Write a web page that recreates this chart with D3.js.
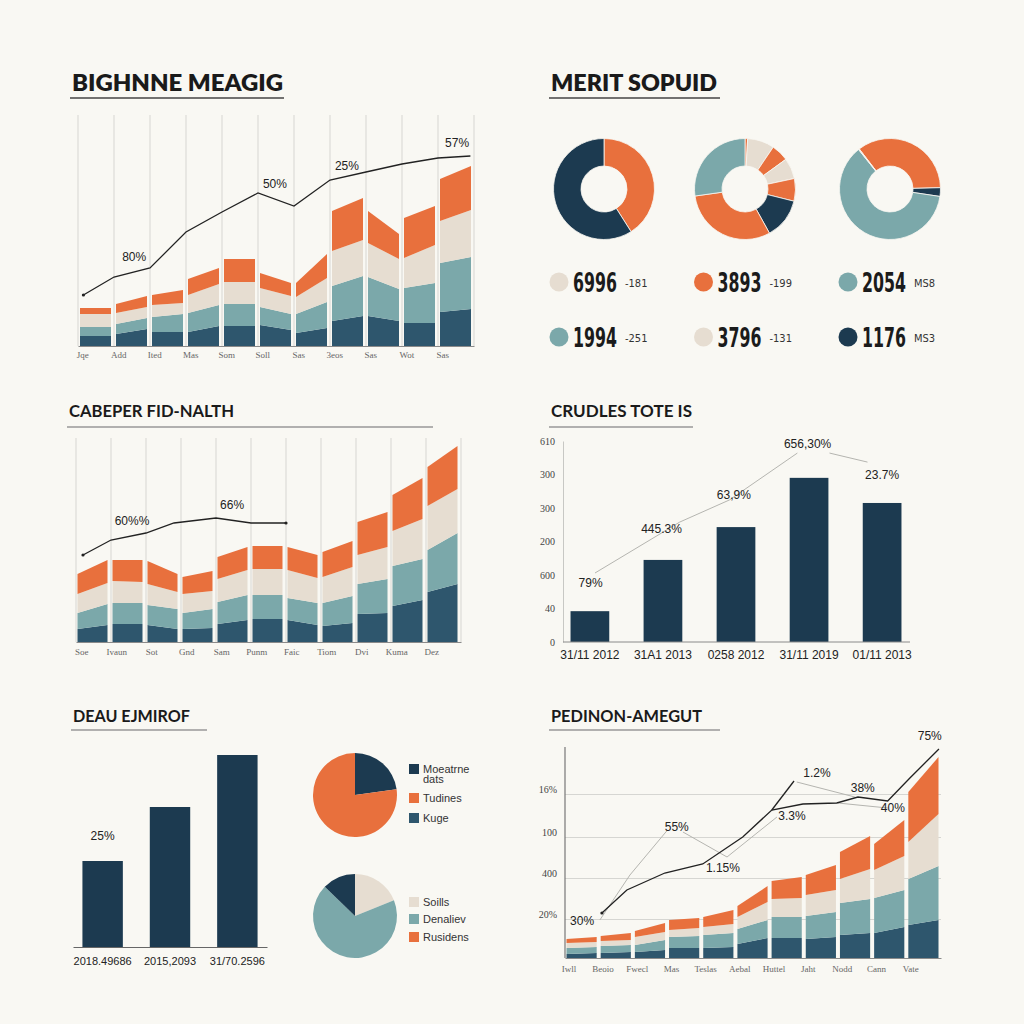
<!DOCTYPE html>
<html><head><meta charset="utf-8">
<script src="https://cdn.jsdelivr.net/npm/d3@7"></script>
<style>html,body{margin:0;padding:0;background:#f9f8f3;} svg{display:block;}</style>
</head><body>
<svg id="chart" width="1024" height="1024"></svg>
<script>
// ---------------- DATA ----------------
// Panel 1 (stacked steps, [left,right] per segment)
const p1Navy   = [[10,10],[12,17],[14,14],[14,20],[20,20],[21,16],[13,18],[25,30],[30,25],[23,23],[34,37]];
const p1Teal   = [[9,9],[10,11],[15,18],[19,21],[22,22],[18,16],[19,26],[35,40],[39,32],[35,40],[49,52]];
const p1Beige  = [[13,13],[11,11],[12,11],[18,21],[22,22],[19,18],[17,24],[35,36],[34,30],[30,38],[42,47]];
const p1Orange = [[6,6],[9,11],[10,13],[16,16],[23,23],[15,13],[14,24],[40,42],[32,25],[40,39],[42,44]];
const p1Cats   = ["Jqe","Add","Ited","Mas","Som","Soll","Sas","3eos","Sas","Wot","Sas"];
const p1LineX  = [0.15,1,2,3,4,5,6,7,8,9,10,10.9];
const p1LineY  = [51,69,78,114,134,153,140,166,174,182,188,190];
const p1Labels = [{t:"80%",x:1.56,v:89},{t:"50%",x:5.47,v:162},{t:"25%",x:7.47,v:180},{t:"57%",x:10.53,v:203}];

// Panel 2 (donuts + legend)
const donut1 = [41,59];
const donut1Colors = ["orange","navy"];
const donut2 = [3,31,20,24,26,47,111,98];
const donut2Colors = ["orange","beige","orange","beige","orange","navy","orange","teal"];
const donut3 = [126,10,223,1];
const donut3Colors = ["orange","navy","teal","beige"];
const donut3Start = -37.5;
const statValues = ["6996","3893","2054","1994","3796","1176"];
const statNotes  = ["-181","-199","MS8","-251","-131","MS3"];
const statColors = ["beige","orange","teal","teal","beige","navy"];

// Panel 3 (stacked steps)
const p3Navy   = [[13,17],[18,18],[17,13],[13,14],[18,22],[23,23],[22,17],[16,19],[28,29],[36,42],[50,58]];
const p3Teal   = [[16,21],[21,21],[20,20],[16,19],[22,25],[24,24],[22,22],[23,27],[30,34],[40,41],[42,51]];
const p3Beige  = [[19,21],[22,21],[21,17],[19,18],[23,25],[26,26],[28,25],[26,29],[29,32],[35,40],[44,44]];
const p3Orange = [[20,23],[21,22],[23,18],[17,20],[22,23],[23,23],[23,23],[25,26],[33,35],[36,41],[39,43]];
const p3Cats   = ["Soe","Ivaun","Sot","Gnd","Sam","Punm","Faic","Tiom","Dvi","Kuma","Dez"];
const p3LineX  = [0.2,1,2,2.8,4,5,6];
const p3LineY  = [87,102,109,119,124,119,119];
const p3Labels = [{t:"60%%",x:1.6,v:121},{t:"66%",x:4.46,v:137}];

// Panel 4 (bars)
const p4Cats   = ["31/11 2012","31A1 2013","0258 2012","31/11 2019","01/11 2013"];
const p4Values = [92,245,343,490,415];
const p4Ticks  = [0,100,200,300,400,500,600];
const p4TickLabels = ["0","40","600","200","300","300","610"];
const p4LeadA  = [[0.07,206],[1.23,358],[1.91,424],[2.84,564]];
const p4LeadB  = [[3.28,564],[3.8,537]];
const p4Labels = [{t:"79%",x:0.01,v:176},{t:"445.3%",x:0.98,v:337},{t:"63,9%",x:1.97,v:439},{t:"656,30%",x:2.98,v:591},{t:"23.7%",x:4.0,v:498}];

// Panel 5 (bars + pies)
const p5Cats   = ["2018.49686","2015,2093","31/70.2596"];
const p5Values = [86,140,192];
const p5Label  = {t:"25%",i:0,v:111};
const pieA = [82,278];
const pieAColors = ["navy","orange"];
const pieALegend = [["Moeatrne","dats"],["Tudines"],["Kuge"]];
const pieALegendColors = ["navy","orange","base"];
const pieB = [68,246,46];
const pieBColors = ["beige","teal","navy"];
const pieBLegend = ["Soills","Denaliev","Rusidens"];
const pieBLegendColors = ["beige","teal","orange"];

// Panel 6 (stacked steps)
const p6Navy   = [[4,5],[5,6],[6,8],[10,10],[10,11],[14,20],[20,20],[19,21],[23,25],[25,31],[33,38]];
const p6Teal   = [[6,6],[7,7],[7,10],[11,12],[13,14],[15,18],[21,21],[23,25],[32,34],[35,37],[46,54]];
const p6Beige  = [[5,5],[5,5],[8,8],[7,8],[8,9],[12,18],[18,19],[21,22],[24,30],[28,34],[37,52]];
const p6Orange = [[4,5],[5,7],[6,9],[10,10],[10,14],[11,16],[18,21],[20,25],[27,33],[26,36],[50,57]];
const p6Cats   = ["Iwll","Beoio","Fwecl","Mas","Teslas","Aebal","Huttel","Jaht","Nodd","Cann","Vate"];
const p6Grid   = [39,80,121,164];
const p6GridLabels = ["20%","400","100","16%"];
const p6LineX  = [1.08,1.81,2.92,4.03,5.2,6.05,6.96,7.95,8.57,9.44,10.09,10.94];
const p6LineY  = [45,68,85,94,121,148,154,155,161,157,180,209];
const p6Spike  = [[6.05,148],[6.7,177]];
const p6Leads  = [
  [[1.02,38],[1.9,83],[3.0,128]],
  [[3.45,126],[4.74,101],[6.2,141]],
  [[6.78,176],[8.48,161]],
  [[7.98,155],[9.44,150]]
];
const p6Labels = [{t:"30%",x:0.5,v:37},{t:"55%",x:3.27,v:131},{t:"1.15%",x:4.62,v:90},{t:"3.3%",x:6.64,v:142},
  {t:"1.2%",x:7.37,v:185},{t:"38%",x:8.71,v:170},{t:"40%",x:9.59,v:150},{t:"75%",x:10.67,v:222}];

// ---------------- STYLE ----------------
const C = {navy:"#1c3a50", base:"#2e566d", teal:"#7ba8aa", beige:"#e6ddd1", orange:"#e8703d", bg:"#f9f8f3"};
const stackKeys = ["base","teal","beige","orange"];

const svg = d3.select("#chart");
svg.append("rect").attr("width",1024).attr("height",1024).attr("fill",C.bg);

function title(txt, x, y, size, weight, len, lineY, lineX2, lineColor) {
  svg.append("text").attr("x",x).attr("y",y).text(txt)
    .attr("font-family","Lato, 'Open Sans', sans-serif").attr("font-weight",weight)
    .attr("font-size",size).attr("fill","#1a1a1a")
    .attr("textLength",len).attr("lengthAdjust","spacingAndGlyphs");
  svg.append("line").attr("x1",x-2).attr("x2",lineX2).attr("y1",lineY).attr("y2",lineY)
    .attr("stroke",lineColor).attr("stroke-width",1.3);
}

function stackedPanel(cfg) {
  const g = svg.append("g");
  const x = d3.scaleLinear().domain([0,11]).range(cfg.xr);
  const y = d3.scaleLinear().domain([0,cfg.ymax]).range(cfg.yr);
  if (cfg.vgrid) {
    g.selectAll(".vg").data(d3.range(12)).join("line")
      .attr("x1",d=>x(d)).attr("x2",d=>x(d)).attr("y1",cfg.yr[0]).attr("y2",cfg.yr[1])
      .attr("stroke","#dcdcd8").attr("stroke-width",1.2);
  }
  if (cfg.hgrid) {
    const ax = d3.axisLeft(y).tickValues(cfg.hgrid).tickFormat((d,i)=>cfg.hgridLabels[i])
      .tickSize(-(cfg.xr[1]-cfg.xr[0])).tickPadding(8);
    const a = g.append("g").attr("transform",`translate(${cfg.xr[0]},0)`).call(ax);
    a.selectAll(".tick line").attr("stroke","#d6d6d2").attr("stroke-width",1.2);
    a.selectAll(".tick text").attr("dy","-0.2em").attr("font-family","'Liberation Serif', serif")
      .attr("font-size",10).attr("fill","#444");
    a.select(".domain").remove();
    g.append("line").attr("x1",cfg.xr[0]).attr("x2",cfg.xr[0]).attr("y1",cfg.yr[0]).attr("y2",cfg.yr[1])
      .attr("stroke","#777").attr("stroke-width",1.2);
  }
  const layers = cfg.layers;
  const n = layers[0].length;
  const rows = [];
  for (let s=0;s<n;s++) for (let k=0;k<2;k++) {
    const r = {}; stackKeys.forEach((key,j)=> r[key]=layers[j][s][k]); rows.push(r);
  }
  const series = d3.stack().keys(stackKeys)(rows);
  const area = d3.area().x(d=>d.x).y0(d=>y(d.lo)).y1(d=>y(d.hi));
  series.forEach(ser=>{
    for (let s=0;s<n;s++) {
      const pts = [
        {x:x(s)+cfg.gapL, lo:ser[2*s][0], hi:ser[2*s][1]},
        {x:x(s+1)-cfg.gapR, lo:ser[2*s+1][0], hi:ser[2*s+1][1]}
      ];
      g.append("path").attr("d",area(pts)).attr("fill",C[ser.key]);
    }
  });
  const xa = d3.axisBottom(x).tickValues(d3.range(n).map(i=>i+cfg.labOff))
    .tickFormat((d,i)=>cfg.cats[i]).tickSize(0).tickPadding(cfg.labPad);
  const a = g.append("g").attr("transform",`translate(0,${cfg.yr[0]})`).call(xa);
  a.select(".domain").attr("stroke","#8a8a8a").attr("stroke-width",1.2);
  a.selectAll(".tick text").attr("font-family","'Liberation Serif', serif").attr("font-size",9).attr("fill","#666");
  return {g,x,y};
}

function lineWithLabels(p, xs, ys, labels) {
  const line = d3.line().x(d=>p.x(d[0])).y(d=>p.y(d[1]));
  const pts = xs.map((v,i)=>[v,ys[i]]);
  p.g.append("path").attr("d",line(pts)).attr("fill","none").attr("stroke","#222").attr("stroke-width",1.3);
  p.g.append("circle").attr("cx",p.x(pts[0][0])).attr("cy",p.y(pts[0][1])).attr("r",1.6).attr("fill","#222");
  labels.forEach(l=>{
    p.g.append("text").attr("x",p.x(l.x)).attr("y",p.y(l.v)+4).attr("text-anchor","middle")
      .attr("font-family","'Liberation Sans', Arial, sans-serif").attr("font-size",12).attr("fill","#222").text(l.t);
  });
  return line;
}

// ---------------- PANEL 1 ----------------
title("BIGHNNE MEAGIG", 72, 91, 23, 800, 211, 98, 284, "#444");
const P1 = stackedPanel({xr:[78,474], yr:[346,115], ymax:231, layers:[p1Navy,p1Teal,p1Beige,p1Orange],
  vgrid:true, gapL:2, gapR:3, cats:p1Cats, labOff:0.12, labPad:6});
lineWithLabels(P1, p1LineX, p1LineY, p1Labels);

// ---------------- PANEL 2 ----------------
title("MERIT SOPUID", 551, 91, 23, 800, 166, 98, 720, "#444");
function donut(cx, cy, vals, cols, startDeg) {
  const pie = d3.pie().sort(null).startAngle((startDeg||0)*Math.PI/180).endAngle(((startDeg||0)+360)*Math.PI/180);
  const arc = d3.arc().innerRadius(23).outerRadius(50.5);
  svg.append("g").attr("transform",`translate(${cx},${cy})`)
    .selectAll("path").data(pie(vals)).join("path").attr("d",arc)
    .attr("fill",(d,i)=>C[cols[i]]).attr("stroke",C.bg).attr("stroke-width",0.8);
}
donut(604,189,donut1,donut1Colors,0);
donut(745,189,donut2,donut2Colors,0);
donut(890,189,donut3,donut3Colors,donut3Start);
const statX = d3.scalePoint().domain([0,1,2]).range([559,848]);
const statY = d3.scalePoint().domain([0,1]).range([282,337]);
statValues.forEach((v,i)=>{
  const cx = statX(i%3), cy = statY(Math.floor(i/3));
  svg.append("circle").attr("cx",cx).attr("cy",cy).attr("r",9.5).attr("fill",C[statColors[i]]);
  const g = svg.append("g");
  const t = g.append("text").attr("x",0).attr("y",0).text(v)
    .attr("font-family","'DejaVu Sans Condensed', 'DejaVu Sans', sans-serif").attr("font-weight",700)
    .attr("font-size",24).attr("fill","#1b1b1b");
  const w = t.node().getComputedTextLength();
  g.attr("transform",`translate(${cx+14},${cy+10}) scale(${(44/w).toFixed(3)},1.14)`);
  svg.append("text").attr("x",cx+66).attr("y",cy+5).text(statNotes[i])
    .attr("font-family","'DejaVu Sans Condensed', sans-serif").attr("font-size",11).attr("fill","#333");
});

// ---------------- PANEL 3 ----------------
title("CABEPER FID-NALTH", 69, 417, 17, 700, 165, 427, 433, "#999");
const P3 = stackedPanel({xr:[76,461], yr:[642,438], ymax:204, layers:[p3Navy,p3Teal,p3Beige,p3Orange],
  vgrid:true, gapL:1.5, gapR:3.5, cats:p3Cats, labOff:0.15, labPad:7});
lineWithLabels(P3, p3LineX, p3LineY, p3Labels);
P3.g.append("circle").attr("cx",P3.x(p3LineX[p3LineX.length-1])).attr("cy",P3.y(p3LineY[p3LineY.length-1])).attr("r",1.6).attr("fill","#222");

// ---------------- PANEL 4 ----------------
title("CRUDLES TOTE IS", 551, 417, 17, 700, 141, 427, 693, "#999");
{
  const g = svg.append("g");
  const x = d3.scaleBand().domain(p4Cats).range([553,919]).paddingInner(0.47).paddingOuter(0.24);
  const y = d3.scaleLinear().domain([0,600]).range([642,441]);
  const xl = d3.scaleLinear().domain([0,4]).range([x(p4Cats[0])+x.bandwidth()/2, x(p4Cats[4])+x.bandwidth()/2]);
  const ya = g.append("g").attr("transform","translate(563,0)")
    .call(d3.axisLeft(y).tickValues(p4Ticks).tickFormat((d,i)=>p4TickLabels[i]).tickSize(0).tickPadding(8));
  ya.select(".domain").attr("stroke","#c8c8c4");
  ya.selectAll("text").attr("font-family","'Liberation Serif', serif").attr("font-size",10).attr("fill","#444");
  g.selectAll(".bar").data(p4Values).join("rect")
    .attr("x",(d,i)=>x(p4Cats[i])).attr("width",x.bandwidth())
    .attr("y",d=>y(d)).attr("height",d=>y(0)-y(d)).attr("fill",C.navy);
  const xa = g.append("g").attr("transform","translate(0,642)")
    .call(d3.axisBottom(x).tickSize(0).tickPadding(8).tickSizeOuter(0));
  xa.select(".domain").attr("stroke","#8a8a8a").attr("d","M563,0H910");
  xa.selectAll("text").attr("font-family","'Liberation Sans', sans-serif").attr("font-size",12).attr("fill","#222");
  const ln = d3.line().x(d=>xl(d[0])).y(d=>y(d[1]));
  [p4LeadA,p4LeadB].forEach(L=> g.append("path").attr("d",ln(L)).attr("fill","none").attr("stroke","#b5b5b0").attr("stroke-width",1));
  p4Labels.forEach(l=> g.append("text").attr("x",xl(l.x)).attr("y",y(l.v)+4).attr("text-anchor","middle")
    .attr("font-family","'Liberation Sans', sans-serif").attr("font-size",12).attr("fill","#222").text(l.t));
}

// ---------------- PANEL 5 ----------------
title("DEAU EJMIROF", 73, 722, 17, 700, 117, 730, 207, "#999");
{
  const g = svg.append("g");
  const x = d3.scaleBand().domain(p5Cats).range([73,267]).paddingInner(0.4).paddingOuter(0.14);
  const y = d3.scaleLinear().domain([0,200]).range([947,747]);
  g.selectAll(".bar").data(p5Values).join("rect")
    .attr("x",(d,i)=>x(p5Cats[i])).attr("width",x.bandwidth())
    .attr("y",d=>y(d)).attr("height",d=>y(0)-y(d)).attr("fill",C.navy);
  const xa = g.append("g").attr("transform","translate(0,947)")
    .call(d3.axisBottom(x).tickSize(0).tickPadding(10).tickSizeOuter(0));
  xa.select(".domain").attr("stroke","#666").attr("stroke-width",1.2);
  xa.selectAll("text").attr("font-family","'Liberation Sans', sans-serif").attr("font-size",11).attr("fill","#222");
  g.append("text").attr("x",x(p5Cats[p5Label.i])+x.bandwidth()/2).attr("y",y(p5Label.v)+4).attr("text-anchor","middle")
    .attr("font-family","'Liberation Sans', sans-serif").attr("font-size",12).attr("fill","#222").text(p5Label.t);

  const pie = d3.pie().sort(null);
  const arc = d3.arc().innerRadius(0).outerRadius(42);
  g.append("g").attr("transform","translate(355,795)").selectAll("path").data(pie(pieA)).join("path")
    .attr("d",arc).attr("fill",(d,i)=>C[pieAColors[i]]);
  g.append("g").attr("transform","translate(355,916)").selectAll("path").data(pie(pieB)).join("path")
    .attr("d",arc).attr("fill",(d,i)=>C[pieBColors[i]]);
  const legA = d3.scaleOrdinal().domain([0,1,2]).range([764,793,813]);
  pieALegend.forEach((lines,i)=>{
    g.append("rect").attr("x",409).attr("y",legA(i)).attr("width",10).attr("height",10).attr("fill",C[pieALegendColors[i]]);
    lines.forEach((t,k)=> g.append("text").attr("x",423).attr("y",legA(i)+9+k*10).text(t)
      .attr("font-family","'Liberation Sans', sans-serif").attr("font-size",11).attr("fill","#333"));
  });
  const legB = d3.scaleOrdinal().domain([0,1,2]).range([897,914,932]);
  pieBLegend.forEach((t,i)=>{
    g.append("rect").attr("x",409).attr("y",legB(i)).attr("width",10).attr("height",10).attr("fill",C[pieBLegendColors[i]]);
    g.append("text").attr("x",423).attr("y",legB(i)+9).text(t)
      .attr("font-family","'Liberation Sans', sans-serif").attr("font-size",11).attr("fill","#333");
  });
}

// ---------------- PANEL 6 ----------------
title("PEDINON-AMEGUT", 551, 722, 17, 700, 151, 730, 720, "#999");
const P6 = stackedPanel({xr:[565,941], yr:[958,747], ymax:211, layers:[p6Navy,p6Teal,p6Beige,p6Orange],
  vgrid:false, hgrid:p6Grid, hgridLabels:p6GridLabels, gapL:1.5, gapR:2.5, cats:p6Cats, labOff:0.1, labPad:8});
{
  const ln = d3.line().x(d=>P6.x(d[0])).y(d=>P6.y(d[1]));
  p6Leads.forEach(L=> P6.g.append("path").attr("d",ln(L)).attr("fill","none").attr("stroke","#b5b5b0").attr("stroke-width",1));
  lineWithLabels(P6, p6LineX, p6LineY, p6Labels);
  P6.g.append("path").attr("d",ln(p6Spike)).attr("fill","none").attr("stroke","#222").attr("stroke-width",1.3);
}
</script></body></html>
